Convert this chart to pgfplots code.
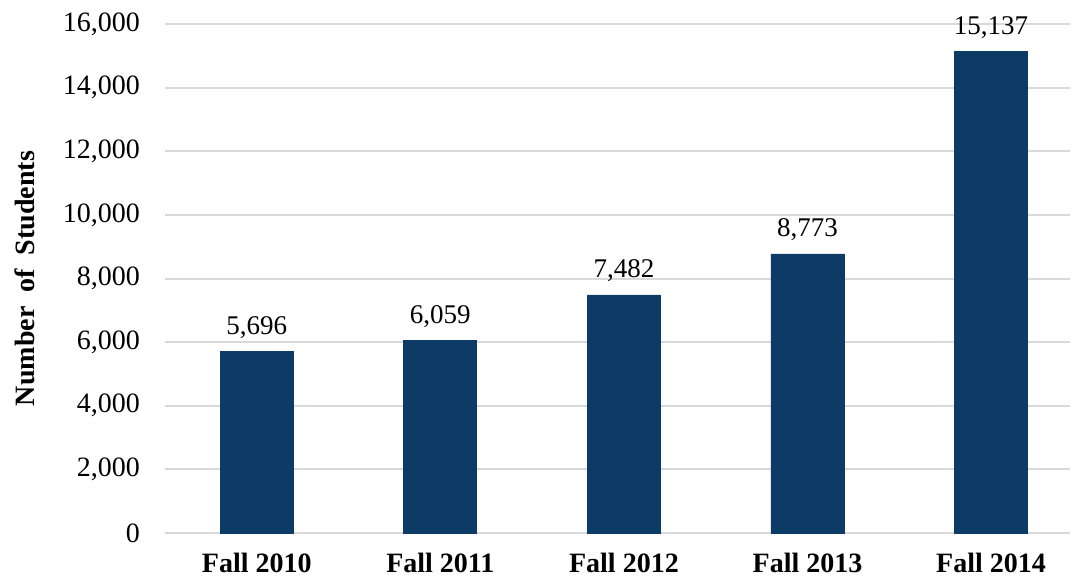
\documentclass[border=0pt]{standalone}
\usepackage{pgfplots}
\pgfplotsset{compat=1.18}
\usepackage{fontspec}
\setmainfont{Liberation Serif}
\definecolor{barblue}{RGB}{12,59,102}
\definecolor{gridgray}{RGB}{217,217,217}
\begin{document}
\begin{tikzpicture}
\begin{axis}[
  at={(0,0)}, anchor=south west,
  width=452.5pt, height=254.5pt, scale only axis,
  xmin=-0.5, xmax=4.43,
  ymin=0, ymax=16000,
  ytick={0,2000,...,16000},
  xtick={0,1,2,3,4},
  xticklabels={Fall 2010,Fall 2011,Fall 2012,Fall 2013,Fall 2014},
  major tick length=0pt,
  axis line style={draw=none},
  ymajorgrids,
  grid style={gridgray, line width=1pt},
  scaled y ticks=false,
  /pgf/number format/.cd, 1000 sep={,}, assume math mode=true, /pgfplots/.cd,
  yticklabel style={font=\fontsize{14}{16}\selectfont, xshift=-9pt},
  xticklabel style={font=\fontsize{14}{16}\selectfont\bfseries, yshift=-6.5pt},
  ylabel={Number\ \ of\ \ Students},
  ylabel style={font=\fontsize{14}{16}\selectfont\bfseries, at={(axis description cs:-0.155,0.5)}, anchor=center},
  ybar, bar width=36.5pt,
  nodes near coords,
  every node near coord/.append style={font=\fontsize{13.5}{16}\selectfont, yshift=3pt, /pgf/number format/.cd, 1000 sep={,}, assume math mode=true},
]
\addplot[fill=barblue, draw=barblue] coordinates {(0,5696) (1,6059) (2,7482) (3,8773) (4,15137)};
\end{axis}
\pgfresetboundingbox
\path[use as bounding box] (-82.5pt,-23pt) rectangle (454pt,266.5pt);
\end{tikzpicture}
\end{document}
